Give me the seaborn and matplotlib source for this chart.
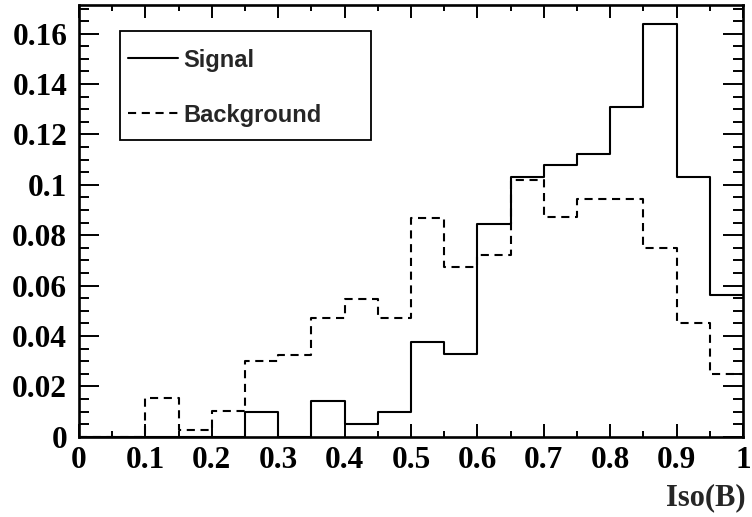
import numpy as np
import pandas as pd
import seaborn as sns
import matplotlib
matplotlib.use("Agg")
import matplotlib.pyplot as plt
from matplotlib.ticker import MultipleLocator, FixedLocator
from matplotlib.lines import Line2D
from matplotlib.patches import Rectangle

# ---- data (20 bins from 0 to 1) ----
bin_edges = [0.0, 0.05, 0.1, 0.15, 0.2, 0.25, 0.3, 0.35, 0.4, 0.45, 0.5,
             0.55, 0.6, 0.65, 0.7, 0.75, 0.8, 0.85, 0.9, 0.95, 1.0]
signal = [0.0, 0.0, 0.0, 0.0, 0.0, 0.0097, 0.0, 0.0142, 0.0050, 0.0097,
          0.0375, 0.0329, 0.0843, 0.1030, 0.1078, 0.1123, 0.1310, 0.1637,
          0.1030, 0.0563]
background = [0.0, 0.0, 0.0153, 0.0027, 0.0101, 0.0301, 0.0325, 0.0473,
              0.0548, 0.0473, 0.0868, 0.0672, 0.0722, 0.1021, 0.0871,
              0.0944, 0.0944, 0.0749, 0.0451, 0.0249]
x_ticks = [0, 0.1, 0.2, 0.3, 0.4, 0.5, 0.6, 0.7, 0.8, 0.9, 1]
x_tick_labels = ["0", "0.1", "0.2", "0.3", "0.4", "0.5", "0.6", "0.7", "0.8", "0.9", "1"]
y_ticks = [0, 0.02, 0.04, 0.06, 0.08, 0.1, 0.12, 0.14, 0.16]
y_tick_labels = ["0", "0.02", "0.04", "0.06", "0.08", "0.1", "0.12", "0.14", "0.16"]
series_names = ["Signal", "Background"]
x_label = "Iso(B)"

edges = np.array(bin_edges)
centers = (edges[:-1] + edges[1:]) / 2
df = pd.DataFrame({
    "iso": np.concatenate([centers, centers]),
    "w": np.concatenate([signal, background]),
    "sample": [series_names[0]] * len(signal) + [series_names[1]] * len(background),
})

sns.set_style("ticks")
plt.rcParams["font.family"] = ["Liberation Serif", "DejaVu Serif"]

fig = plt.figure(figsize=(7.52, 5.17), dpi=100)
ax = fig.add_axes([79 / 752, 1 - 436.7 / 517, 664 / 752, 431.7 / 517])

lw = 1.5
dash = (0, (3.9, 2.7))
bw = edges[1] - edges[0]
brange = (edges[0], edges[-1])
sns.histplot(data=df[df["sample"] == series_names[0]], x="iso", weights="w",
             binwidth=bw, binrange=brange, element="step", fill=False,
             color="black", linewidth=lw, ax=ax)
sns.histplot(data=df[df["sample"] == series_names[1]], x="iso", weights="w",
             binwidth=bw, binrange=brange, element="step", fill=False,
             color="black", linewidth=lw, linestyle=dash, ax=ax)

ax.set_xlim(0, 1)
ax.set_ylim(0, 0.1714)
ax.set_ylabel("")
ax.set_xlabel("")

for s in ax.spines.values():
    s.set_visible(True)
    s.set_linewidth(1.9)
    s.set_color("black")

ax.xaxis.set_major_locator(FixedLocator(x_ticks))
ax.set_xticklabels(x_tick_labels)
ax.xaxis.set_minor_locator(MultipleLocator(0.05))
ax.yaxis.set_major_locator(FixedLocator(y_ticks))
ax.set_yticklabels(y_tick_labels)
ax.yaxis.set_minor_locator(MultipleLocator(0.005))

ax.tick_params(axis="both", which="both", direction="in", colors="black",
               top=True, right=True, labeltop=False, labelright=False)
ax.tick_params(axis="x", which="major", length=9.5, width=1.4, pad=7.0,
               labelsize=22.5)
ax.tick_params(axis="x", which="minor", length=4.5, width=1.4)
ax.tick_params(axis="y", which="major", length=14.5, width=1.4, pad=8.5,
               labelsize=22.5)
ax.tick_params(axis="y", which="minor", length=7.2, width=1.4)
for lab in ax.get_xticklabels() + ax.get_yticklabels():
    lab.set_fontweight("bold")

ax.set_xlabel(x_label, fontsize=22, fontweight="bold", loc="right")
ax.xaxis.label.set_verticalalignment("baseline")
ax.xaxis.set_label_coords(1.004, -0.158)

# ---- legend box (ROOT TLegend style) ----
ax.add_patch(Rectangle((0.0617, 0.6873), 0.3781, 0.2525, transform=ax.transAxes,
                       fill=True, facecolor="white", edgecolor="black",
                       linewidth=1.3, zorder=5))
leg_font = {"family": "Liberation Sans", "weight": "bold", "size": 17}
leg_line_y = [0.8771, 0.7497]
leg_text_y = [0.8557, 0.7297]
leg_styles = ["-", dash]
for name, ly, ty, ls in zip(series_names, leg_line_y, leg_text_y, leg_styles):
    ax.add_line(Line2D([0.0738, 0.1491], [ly, ly], transform=ax.transAxes,
                       color="black", linewidth=lw, linestyle=ls, zorder=6))
    ax.text(0.1566, ty, name, transform=ax.transAxes, ha="left", va="baseline",
            fontdict=leg_font, zorder=6)

fig.savefig("out.png", dpi=100)
